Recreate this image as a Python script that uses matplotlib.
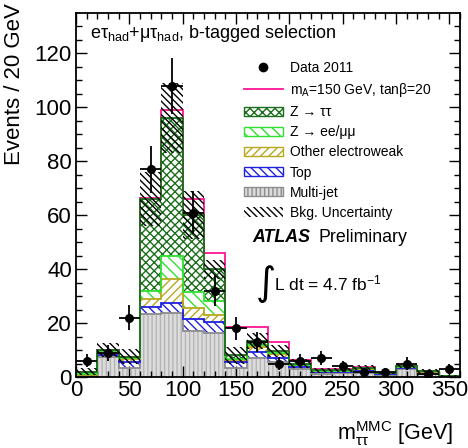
import numpy as np
import matplotlib
matplotlib.use("Agg")
import matplotlib.pyplot as plt
from matplotlib.patches import Patch
from matplotlib.lines import Line2D

plt.rcParams["font.family"] = ["Liberation Sans", "DejaVu Sans"]
plt.rcParams["mathtext.fontset"] = "custom"
plt.rcParams["mathtext.rm"] = "Liberation Sans"
plt.rcParams["mathtext.it"] = "Liberation Sans:italic"
plt.rcParams["mathtext.bf"] = "Liberation Sans:bold"
plt.rcParams["hatch.linewidth"] = 1.0

# bin edges in GeV (20 GeV bins)
EDGES = np.arange(0, 361, 20)
CENTERS = EDGES[:-1] + 10

# background components per bin (stack order, bottom first)
multijet = [0.3, 7.5, 3.5, 23.3, 23.6, 17.2, 16.5, 3.5, 7.0, 5.5, 2.8, 1.2, 1.3, 1.5, 0.8, 3.0, 1.2, 0.3]
top = [0.2, 0.8, 2.0, 2.5, 3.7, 4.3, 4.0, 2.0, 2.3, 1.7, 1.0, 0.6, 0.6, 0.8, 0.3, 0.4, 0.5, 0.1]
other_ew = [0.2, 0.7, 1.2, 3.1, 9.0, 4.1, 2.5, 0.8, 2.0, 1.3, 0.6, 0.4, 0.4, 0.7, 0.2, 0.3, 0.3, 0.1]
z_ee = [0.3, 0.3, 0.4, 3.1, 8.7, 5.8, 5.3, 0.5, 0.6, 0.4, 0.2, 0.1, 0.1, 0.2, 0.1, 0.1, 0.1, 0.0]
z_tautau = [1.0, 0.8, 0.5, 34.0, 51.2, 28.6, 11.7, 1.2, 1.5, 0.8, 0.4, 0.2, 0.2, 0.3, 0.1, 0.2, 0.2, 0.0]
signal = [0.0, 0.0, 0.0, 0.5, 2.8, 6.0, 6.0, 10.5, 5.2, 3.3, 1.3, 0.5, 0.3, 0.3, 0.1, 0.2, 0.1, 0.0]
bkg_unc = [1.2, 2.5, 2.6, 10.0, 13.0, 9.0, 3.5, 3.0, 3.0, 2.2, 1.5, 1.0, 0.8, 1.0, 0.5, 0.8, 0.8, 0.3]

data = [6, 9, 22, 77, 108, 61, 32, 18, 13, 5, 6, 7, 4, 2, 2, 5, 1, 3]

components = [
    ("Multi-jet", multijet, "#dcdcdc", "#b4b4b4", "#8c8c8c", "||||"),
    ("Top", top, "white", "#2020e0", "#2020e0", "\\\\\\\\"),
    ("Other electroweak", other_ew, "white", "#b8a820", "#b8a820", "////"),
    ("Z \u2192 ee/\u03bc\u03bc", z_ee, "white", "#30e030", "#30e030", "\\\\\\"),
    ("Z \u2192 \u03c4\u03c4", z_tautau, "white", "#1c6e1c", "#1c6e1c", "xxxx"),
]

SIGNAL_COLOR = "#ff1493"


def main():
    fig = plt.figure(figsize=(4.68, 4.48), dpi=100)
    ax = fig.add_axes([76 / 468, 71 / 448, 384 / 468, 364 / 448])

    lower = np.zeros(len(CENTERS))
    for label, vals, fc, hc, ec, hatch in components:
        upper = lower + np.array(vals)
        ax.stairs(upper, EDGES, baseline=lower, fill=True, facecolor=fc,
                  edgecolor=hc, hatch=hatch, linewidth=0, zorder=1)
        ax.stairs(upper, EDGES, baseline=0, color=ec, linewidth=1.3, zorder=2)
        lower = upper
    total = lower

    # signal stacked on top of background
    ax.stairs(total + np.array(signal), EDGES, baseline=None,
              color=SIGNAL_COLOR, linewidth=1.3, zorder=1.5)

    unc = np.array(bkg_unc)
    ax.stairs(total + unc, EDGES, baseline=total - unc, fill=True,
              facecolor="none", edgecolor="black", hatch="\\\\\\\\\\",
              linewidth=0, zorder=4)

    d = np.array(data, dtype=float)
    ax.errorbar(CENTERS, d, xerr=10, yerr=np.sqrt(d), fmt="o", color="black",
                ms=5.5, elinewidth=1.3, capsize=0, zorder=5)

    ax.set_xlim(0, 360)
    ax.set_ylim(0, 135)
    ax.set_xticks(np.arange(0, 351, 50))
    ax.set_xticks(np.arange(0, 361, 10), minor=True)
    ax.set_yticks(np.arange(0, 121, 20))
    ax.set_yticks(np.arange(0, 135, 5), minor=True)
    ax.tick_params(which="both", direction="in", top=True, right=True,
                   labelsize=16, width=1.0)
    ax.tick_params(which="major", length=8)
    ax.tick_params(which="minor", length=4)
    ax.tick_params(axis="x", pad=2)
    ax.tick_params(axis="y", pad=3)
    for sp in ax.spines.values():
        sp.set_linewidth(1.3)

    fig.text(15 / 468, 1 - 3 / 448, "Events / 20 GeV", rotation=90,
             ha="center", va="top", fontsize=16)
    fig.text(453 / 468, 1 - 440 / 448,
             r"m$_{\mathrm{\tau\tau}}^{\mathrm{MMC}}$ [GeV]",
             ha="right", va="baseline", fontsize=15.5)

    fig.text(90 / 468, 1 - 33 / 448,
             r"e$\mathrm{\tau}_{\mathrm{had}}$+$\mathrm{\mu\tau}_{\mathrm{had}}$, b-tagged selection",
             fontsize=13, va="center")

    handles = [
        Line2D([], [], marker="o", color="black", linestyle="none", ms=6),
        Line2D([], [], color=SIGNAL_COLOR, linewidth=1.3),
    ]
    labels = ["Data 2011", r"m$_{\mathrm{A}}$=150 GeV, tan" + "\u03b2=20"]
    for label, vals, fc, hc, ec, hatch in reversed(components):
        handles.append(Patch(facecolor=fc, edgecolor=ec, hatch=hatch,
                             linewidth=1.0))
        labels.append(label)
    handles.append(Patch(facecolor="none", edgecolor="black",
                         hatch="\\\\\\\\\\", linewidth=0))
    labels.append("Bkg. Uncertainty")

    ax.legend(handles, labels, loc="upper left",
              bbox_to_anchor=(244 / 468, 1 - 61 / 448),
              bbox_transform=fig.transFigure, frameon=False,
              fontsize=10, handlelength=2.8, handleheight=0.65,
              handletextpad=0.5, labelspacing=0.44, borderpad=0,
              borderaxespad=0)

    fig.text(252 / 468, 1 - 237 / 448, "ATLAS", fontsize=12.8,
             fontweight="bold", fontstyle="italic", va="center")
    fig.text(318 / 468, 1 - 237 / 448, "Preliminary", fontsize=12.8,
             va="center")
    fig.text(256 / 468, 1 - 284 / 448, "\u222b", fontsize=28,
             family="DejaVu Sans", va="center")
    fig.text(274 / 468, 1 - 283 / 448, r"L dt = 4.7 fb$^{\mathrm{-1}}$",
             fontsize=12.5, va="center")

    fig.savefig("out.png", dpi=100)


if __name__ == "__main__":
    main()
